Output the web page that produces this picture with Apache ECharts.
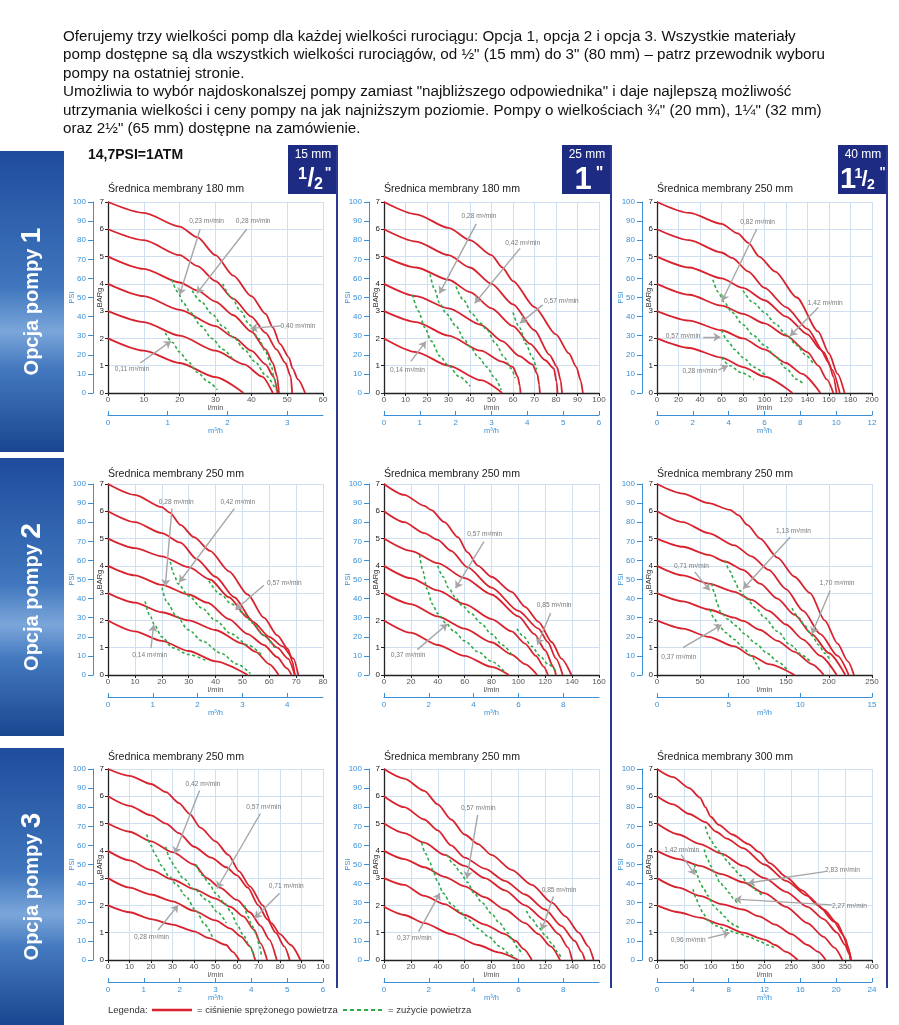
<!DOCTYPE html>
<html><head><meta charset="utf-8">
<script src="https://cdn.jsdelivr.net/npm/echarts@6/dist/echarts.min.js"></script>
<style>html,body{margin:0;padding:0;background:#fff}#c{width:899px;height:1025px}</style>
</head><body><div id="c"></div><script>
// ---------------- DATA ----------------
const titles = ['Średnica membrany 180 mm','Średnica membrany 180 mm','Średnica membrany 250 mm',
  'Średnica membrany 250 mm','Średnica membrany 250 mm','Średnica membrany 250 mm',
  'Średnica membrany 250 mm','Średnica membrany 250 mm','Średnica membrany 300 mm'];
const lminMax  = [60,100,200,80,160,250,100,160,400];
const lminStep = [10,10,20,10,20,50,10,20,50];
const m3hTicks = [[0,1,2,3],[0,1,2,3,4,5,6],[0,2,4,6,8,10,12],[0,1,2,3,4],[0,2,4,6,8],[0,5,10,15],[0,1,2,3,4,5,6],[0,2,4,6,8],[0,4,8,12,16,20,24]];
const barMax = 7, barStep = 1, psiMax = 100, psiStep = 10;
const headerMm = ['15 mm','25 mm','40 mm'];
const optionLabels = ['Opcja pompy ','Opcja pompy ','Opcja pompy '];
const optionNums = ['1','2','3'];

// pressure curves (BARg vs l/min), starting 7,6,5,4,3,2 bar
const p1Pressure = [
 [[0,7],[10,6.6],[20,6.1],[25,5.7],[30,5.05],[35,4.3],[40,3.55],[44,2.9],[46,2.4],[48,1.8],[50.5,1.3],[51.5,0.9],[53,0.5],[55,0]],
 [[0,6],[10,5.6],[20,5.05],[25,4.65],[30,4.1],[35,3.45],[40,2.8],[44,2.2],[47,1.6],[49.5,1.1],[51,0.6],[51.4,0]],
 [[0,5],[10,4.55],[20,4.05],[25,3.75],[30,3.35],[35,2.85],[40,2.25],[44,1.6],[46,1.1],[47.2,0.6],[47.7,0]],
 [[0,4],[10,3.55],[20,3.05],[30,2.45],[35,2.05],[40,1.55],[44,1.05],[46.2,0.6],[47.3,0]],
 [[0,3],[10,2.6],[20,2.1],[30,1.55],[38,1.05],[43,0.6],[46,0]],
 [[0,2],[10,1.55],[20,1.1],[30,0.58],[37.8,0]]
];
const p1Air = [
 [[16,2.2],[18,1.85],[20,1.5],[22,1.2],[25,0.75],[28,0.4],[30.5,0.12]],
 [[17.8,4.15],[19.5,3.7],[21,3.3],[23,2.95],[26,2.45],[29,2.0],[32,1.6],[35,1.2]],
 [[23.5,3.75],[26,3.35],[29,2.9],[32,2.45],[35,2.05],[38,1.6],[41,1.15],[44,0.65],[46.5,0.2]],
 [[32,4.0],[34.5,3.5],[37,3.0],[39.5,2.5],[42,2.0],[44,1.5],[45.5,1.0],[46.5,0.5],[47,0.1]]
];
const p1Notes = [
 ['0,23 m³/min',27.5,6.3,25.7,6.0,20,3.6],
 ['0,28 m³/min',40.5,6.3,38.7,6.0,24.8,3.65],
 ['0,40 m³/min',53,2.46,48.2,2.46,39.8,2.37],
 ['0,11 m³/min',6.7,0.88,9,1.1,17.6,1.9]
];

const p2Pressure = [
 [[0,7],[15,6.55],[30,6.05],[40,5.6],[50,5.05],[55,4.6],[60,4.1],[70,3.15],[80,2.15],[86,1.45],[89.5,0.95],[91.5,0.45],[92.5,0]],
 [[0,6],[15,5.55],[30,5.05],[40,4.6],[50,4.0],[60,3.25],[70,2.3],[77,1.4],[80.5,0.95],[82.2,0.45],[82.8,0]],
 [[0,5],[15,4.6],[30,4.15],[40,3.7],[50,3.1],[60,2.45],[68,1.8],[75,1.2],[79,0.9],[80.3,0.4],[80.7,0]],
 [[0,4],[15,3.55],[30,3.1],[45,2.5],[55,1.9],[63,1.35],[69,1.05],[71.3,0.7],[72.2,0.3],[72.5,0]],
 [[0,3],[15,2.6],[30,2.1],[45,1.55],[55,1.15],[60,0.95],[62.2,0.6],[63.2,0.25],[63.5,0]],
 [[0,2],[15,1.5],[30,1.0],[45,0.47],[55,0]]
];
const p2Air = [
 [[13.3,3.6],[16,3.0],[19,2.4],[22,1.9],[26,1.35],[30,1.0],[35,0.6],[40,0.25]],
 [[21.4,4.35],[23.5,3.8],[25.8,3.3],[29,2.9],[33.6,2.45],[37,2.0],[40,1.7],[44,1.3],[48,0.95],[51,0.6],[54.5,0.12]],
 [[33.5,3.9],[37,3.4],[41,2.9],[45,2.55],[48,2.3],[52,1.8],[56,1.3],[59,0.9],[61,0.55]],
 [[60,2.95],[63,2.4],[66,1.8],[69,1.3],[71,0.85]]
];
const p2Notes = [
 ['0,28 m³/min',44.2,6.48,42.9,6.2,25.8,3.65],
 ['0,42 m³/min',64.5,5.5,63.3,5.3,42.2,3.29],
 ['0,57 m³/min',82.5,3.37,73.8,3.23,63.3,2.56],
 ['0,14 m³/min',10.9,0.85,12.5,1.16,19.5,1.89]
];

const p3Pressure = [
 [[0,7],[30,6.6],[60,6.2],[75,5.85],[85,5.5],[95,5.0],[110,4.45],[130,3.5],[150,2.25],[160,1.45],[168,0.7],[174.5,0]],
 [[0,6],[30,5.6],[60,5.15],[70,4.95],[85,4.45],[100,3.85],[120,3.15],[140,2.35],[155,1.5],[163,0.85],[170,0]],
 [[0,5],[30,4.6],[60,4.2],[80,3.85],[100,3.4],[120,2.8],[140,2.15],[152,1.6],[160,1.1],[164,0.6],[167,0]],
 [[0,4],[30,3.6],[60,3.2],[80,2.9],[100,2.55],[120,2.1],[140,1.5],[150,1.0],[158,0.5],[164,0]],
 [[0,3],[30,2.65],[60,2.3],[80,2.0],[100,1.6],[120,1.1],[135,0.7],[152,0]],
 [[0,2],[30,1.65],[60,1.3],[80,0.95],[100,0.6],[126,0]]
];
const p3Air = [
 [[60,1.3],[68,1.0],[78,0.75],[90,0.5]],
 [[60,2.3],[66,1.9],[72,1.6],[80,1.3],[90,0.95],[102,0.6]],
 [[52,4.15],[57,3.7],[62,3.35],[70,2.95],[80,2.5],[90,2.1],[100,1.75],[110,1.35],[120,0.9],[130,0.5],[137,0.3]],
 [[80,3.75],[90,3.3],[100,2.95],[110,2.55],[120,2.15],[130,1.75],[138,1.4],[145,1.1]]
];
const p3Notes = [
 ['0,82 m³/min',93.6,6.26,92.7,6.0,60.5,3.37],
 ['1,42 m³/min',156.5,3.31,150,3.13,123.8,2.09],
 ['0,57 m³/min',24.3,2.09,43,2.05,59,2.05],
 ['0,28 m³/min',39.8,0.79,57,0.84,66,1.0]
];

const p4Pressure = [
 [[0,7],[10,6.6],[20,6.15],[23,5.95],[27,5.5],[32,5.05],[38,4.55],[45,3.8],[52,2.95],[58,2.1],[63,1.45],[67,0.95],[68.6,0.5],[69.5,0]],
 [[0,6],[10,5.6],[20,5.2],[27,4.85],[33,4.25],[40,3.6],[47,2.85],[54,1.95],[60,1.4],[65,1.05],[69,0.6],[70.8,0]],
 [[0,5],[10,4.65],[20,4.35],[30,3.95],[38,3.5],[45,2.85],[52,2.1],[58,1.45],[63,1.0],[67,0.6],[69.5,0]],
 [[0,4],[10,3.65],[20,3.3],[30,2.95],[37,2.65],[45,2.05],[52,1.5],[58,1.1],[63,0.65],[66.5,0.25],[68.3,0]],
 [[0,3],[10,2.65],[20,2.3],[30,2.0],[40,1.65],[50,1.15],[55,0.85],[60,0.4],[63.5,0]],
 [[0,2],[10,1.6],[20,1.25],[30,0.88],[40,0.5],[52,0]]
];
const p4Air = [
 [[13.8,2.7],[15.5,2.2],[17.5,1.8],[20,1.4],[24,1.0],[30,0.75],[37,0.5]],
 [[20.1,3.2],[22,2.65],[25.5,2.15],[30,1.65],[35,1.25],[42,0.8],[48,0.4],[53,0.05]],
 [[23.2,4.15],[24.5,3.7],[26,3.35],[30,2.9],[35,2.45],[40,2.0],[46,1.5],[52,1.1],[57,0.75]],
 [[37.5,3.45],[42,2.95],[46,2.6],[50,2.3],[54,1.9],[58,1.45],[62,1.0]]
];
const p4Notes = [
 ['0,28 m³/min',25.4,6.32,23.8,6.1,21.3,3.25],
 ['0,42 m³/min',48.3,6.32,47,6.1,26.5,3.4],
 ['0,57 m³/min',65.6,3.35,58,3.29,47.4,2.39],
 ['0,14 m³/min',15.5,0.74,16,0.99,17,1.84]
];

const p5Pressure = [
 [[0,7],[15,6.6],[30,6.2],[35,6.05],[45,5.6],[55,5.05],[62,4.5],[70,4.0],[80,3.6],[95,3.05],[105,2.5],[115,1.95],[125,1.2],[132,0.6],[139.5,0]],
 [[0,6],[15,5.6],[30,5.2],[40,4.95],[50,4.55],[62,3.95],[80,3.2],[100,2.35],[115,1.7],[122,1.2],[128,0.6],[133,0]],
 [[0,5],[20,4.55],[40,4.1],[60,3.55],[80,2.95],[100,2.15],[112,1.5],[120,0.9],[126,0.3],[128,0]],
 [[0,4],[20,3.55],[40,3.1],[60,2.6],[80,2.05],[95,1.6],[105,1.15],[113,0.7],[119,0.3],[122,0]],
 [[0,3],[20,2.6],[40,2.15],[60,1.7],[80,1.2],[95,0.75],[105,0.4],[114,0]],
 [[0,2],[20,1.55],[40,1.1],[60,0.7],[80,0.3],[93,0]]
];
const p5Air = [
 [[26.5,4.4],[29,3.8],[32,3.15],[36,2.6],[40,2.25],[46,1.9],[52,1.6],[60,1.25],[70,0.85],[80,0.5],[90,0.1]],
 [[40,4.0],[44,3.6],[48,3.2],[53,2.85],[58,2.55],[65,2.25],[72,1.9],[80,1.5],[88,1.1],[95,0.75]],
 [[99,1.7],[104,1.4],[110,1.05],[116,0.7],[122,0.4],[129,0.08]]
];
const p5Notes = [
 ['0,57 m³/min',74.9,5.17,74.4,4.89,53.3,3.18],
 ['0,85 m³/min',126.6,2.55,124,2.27,114.1,1.11],
 ['0,37 m³/min',17.9,0.71,24.8,0.93,47.1,1.87]
];

const p6Pressure = [
 [[0,7],[30,6.65],[60,6.3],[85,6.05],[95,5.85],[105,5.5],[120,5.0],[140,4.3],[160,3.6],[178,3.0],[195,2.0],[210,1.15],[222,0.5],[229,0]],
 [[0,6],[30,5.6],[60,5.2],[90,4.75],[110,4.35],[130,3.85],[150,3.15],[170,2.35],[190,1.5],[210,0.7],[223,0]],
 [[0,5],[30,4.7],[60,4.4],[80,4.15],[100,3.85],[120,3.35],[140,2.8],[160,2.2],[180,1.5],[200,0.8],[219,0]],
 [[0,4],[30,3.65],[60,3.35],[90,3.05],[110,2.75],[130,2.35],[150,1.85],[170,1.3],[190,0.7],[209,0]],
 [[0,3],[30,2.7],[60,2.4],[90,2.1],[100,1.98],[120,1.65],[140,1.25],[160,0.85],[180,0.4],[194,0]],
 [[0,2],[30,1.7],[60,1.4],[90,1.05],[110,0.7],[130,0.4],[160,0]]
];
const p6Air = [
 [[61.5,2.4],[66,2.1],[72,1.8],[80,1.55],[90,1.3],[100,1.0],[110,0.7],[116,0.4],[120,0.1]],
 [[63.5,3.35],[67,3.0],[70,2.6],[74,2.3],[82,2.05],[92,1.8],[102,1.5],[115,1.15],[128,0.8],[140,0.5],[151,0.2]],
 [[79,4.2],[85,3.8],[90,3.45],[96,3.1],[104,2.8],[115,2.45],[125,2.1],[140,1.6],[155,1.1],[170,0.7],[178,0.5]],
 [[157,2.45],[165,2.1],[172,1.8],[180,1.45],[188,1.1],[195,0.8],[202,0.5]]
];
const p6Notes = [
 ['1,13 m³/min',158.6,5.28,154.7,5.05,100.3,3.16],
 ['1,70 m³/min',209.2,3.35,201.4,3.1,180,1.5],
 ['0,71 m³/min',40,4.0,43.9,3.78,61.4,3.1],
 ['0,37 m³/min',25.3,0.66,30.3,1.0,75,1.84]
];

const p7Pressure = [
 [[0,7],[10,6.75],[20,6.45],[27,6.15],[33,5.75],[38,5.35],[43,4.85],[50,4.35],[56,3.85],[61,3.25],[66,2.7],[72,2.0],[76,1.35],[80,0.95],[85,0.55],[89.5,0]],
 [[0,6],[10,5.65],[20,5.3],[27,5.0],[33,4.65],[40,4.15],[48,3.75],[55,3.4],[60,3.1],[65,2.65],[70,2.0],[74,1.5],[78,1.0],[82,0.5],[84.5,0]],
 [[0,5],[10,4.7],[20,4.35],[30,3.95],[40,3.5],[46,3.0],[52,2.65],[60,2.2],[66,1.75],[71,1.25],[75,0.75],[78.5,0]],
 [[0,4],[10,3.65],[20,3.3],[30,2.95],[40,2.6],[50,2.25],[57,1.95],[63,1.6],[68,1.1],[71,0.6],[74,0]],
 [[0,3],[10,2.65],[20,2.4],[30,2.15],[40,1.8],[50,1.45],[57,1.15],[62,0.85],[66,0.5],[68.5,0]],
 [[0,2],[10,1.75],[20,1.5],[30,1.3],[40,1.05],[47,0.8],[55,0.55],[58,0.3],[61,0]]
];
const p7Air = [
 [[18,4.6],[20,4.2],[22,3.85],[25,3.45],[28,3.1],[32,2.75],[36,2.35],[41,1.8],[45,1.3],[49,0.75]],
 [[26.8,4.15],[29,3.7],[31,3.4],[35,3.0],[40,2.6],[46,2.2],[51,1.75],[55,1.35]],
 [[41,3.5],[44,3.1],[47,2.8],[50,2.45],[54,2.1],[57,1.8],[60,1.3],[63,0.9],[66,0.5],[68,0.12]],
 [[63.5,2.0],[65,1.6],[67,1.25],[69,0.95],[70.5,0.5],[71.5,0.1]]
];
const p7Notes = [
 ['0,42 m³/min',44.2,6.46,42.6,6.21,31,3.89],
 ['0,57 m³/min',72.4,5.6,70.9,5.37,50.7,2.62],
 ['0,71 m³/min',82.9,2.71,79.8,2.45,68.2,1.53],
 ['0,28 m³/min',20.2,0.85,23.3,1.1,32.6,2.01]
];

const p8Pressure = [
 [[0,7],[15,6.65],[30,6.2],[40,5.7],[50,5.15],[60,4.6],[70,4.25],[80,3.85],[95,3.3],[110,2.75],[125,2.1],[135,1.6],[145,1.0],[152,0.5],[156,0]],
 [[0,6],[15,5.6],[30,5.15],[40,4.75],[50,4.2],[60,3.75],[75,3.35],[90,2.9],[105,2.4],[120,1.85],[132,1.25],[142,0.7],[147,0.3],[149.5,0]],
 [[0,5],[15,4.65],[30,4.3],[45,3.85],[60,3.45],[75,3.0],[90,2.55],[105,2.0],[120,1.45],[130,0.95],[137,0.45],[140,0]],
 [[0,4],[15,3.7],[30,3.4],[45,3.05],[60,2.7],[75,2.3],[90,1.85],[105,1.35],[115,0.95],[124,0.5],[131,0]],
 [[0,3],[15,2.75],[30,2.35],[45,2.05],[60,1.65],[75,1.3],[90,0.95],[98,0.7],[104,0.4],[110,0]],
 [[0,1.95],[15,1.65],[30,1.35],[50,0.95],[70,0.55],[85,0.28],[100,0]]
];
const p8Air = [
 [[28,4.3],[31,3.9],[34,3.6],[37,3.2],[40,2.85],[44,2.45],[50,2.05],[56,1.8],[62,1.5],[70,1.15],[78,0.85],[86,0.5],[94,0.2],[98,0.05]],
 [[47,3.85],[52,3.5],[57,3.2],[62,2.85],[67,2.45],[73,2.1],[80,1.7],[86,1.35],[92,1.0],[96,0.7],[100,0.4],[103,0.2]],
 [[106,1.8],[110,1.5],[115,1.2],[120,0.9],[125,0.6],[129,0.3],[132,0.05]]
];
const p8Notes = [
 ['0,57 m³/min',70.2,5.57,69.7,5.32,61.7,2.99],
 ['0,85 m³/min',130.3,2.57,126.1,2.33,117.3,1.1],
 ['0,37 m³/min',22.6,0.8,25.8,1.04,41.6,2.45]
];

const p9Pressure = [
 [[0,7],[30,6.7],[60,6.3],[80,5.95],[90,5.6],[100,5.25],[115,4.95],[140,4.6],[170,4.25],[190,3.95],[210,3.55],[240,3.05],[270,2.55],[300,2.0],[330,1.4],[345,0.95],[355,0.5],[361,0]],
 [[0,6],[30,5.7],[60,5.35],[90,5.05],[110,4.7],[130,4.45],[160,4.1],[200,3.5],[240,2.9],[280,2.35],[310,1.85],[335,1.35],[350,0.8],[358,0.3],[361,0]],
 [[0,5],[40,4.6],[80,4.25],[120,3.9],[160,3.45],[200,3.0],[240,2.5],[280,1.95],[310,1.5],[335,1.0],[350,0.55],[358,0.2],[360,0]],
 [[0,4],[40,3.7],[80,3.45],[120,3.15],[160,2.85],[200,2.45],[240,1.95],[280,1.35],[310,0.85],[330,0.45],[345,0]],
 [[0,3],[40,2.65],[80,2.35],[120,2.05],[160,1.85],[190,1.6],[220,1.3],[250,0.95],[280,0.55],[300,0.3],[314,0]],
 [[0,2],[40,1.75],[80,1.55],[120,1.3],[160,1.0],[200,0.75],[220,0.55],[240,0.3],[262,0]]
];
const p9Air = [
 [[67,2.6],[72,2.3],[78,2.0],[86,1.7],[95,1.45],[110,1.25],[130,1.1],[150,0.98],[170,0.85],[190,0.7],[205,0.55],[220,0.43]],
 [[70,3.5],[75,3.1],[80,2.85],[87,2.6],[95,2.35],[105,2.0],[115,1.8],[125,1.6],[135,1.4],[145,1.25],[155,1.15]],
 [[88,4.05],[93,3.75],[100,3.45],[108,3.15],[117,2.85],[126,2.65],[135,2.45],[142,2.25],[150,2.05]],
 [[90,4.9],[95,4.6],[100,4.4],[108,4.15],[118,3.95],[130,3.65],[140,3.4],[155,3.1],[170,2.8],[185,2.55],[196,2.35]]
];
const p9Notes = [
 ['1,42 m³/min',46,4.04,44.9,3.86,71,3.12],
 ['2,83 m³/min',345,3.3,312.8,3.24,169.5,2.82],
 ['2,27 m³/min',358,1.96,325.2,2.02,144.5,2.23],
 ['0,96 m³/min',58,0.73,94.7,0.8,135.2,1.0]
];

const paragraph = [
 'Oferujemy trzy wielkości pomp dla każdej wielkości rurociągu: Opcja 1, opcja 2 i opcja 3. Wszystkie materiały',
 'pomp dostępne są dla wszystkich wielkości rurociągów, od ½" (15 mm) do 3" (80 mm) – patrz przewodnik wyboru',
 'pompy na ostatniej stronie.',
 'Umożliwia to wybór najdoskonalszej pompy zamiast "najbliższego odpowiednika" i daje najlepszą możliwość',
 'utrzymania wielkości i ceny pompy na jak najniższym poziomie. Pompy o wielkościach ¾" (20 mm), 1¼" (32 mm)',
 'oraz 2½" (65 mm) dostępne na zamówienie.'
];
const legendTexts = ['Legenda:','= ciśnienie sprężonego powietrza','= zużycie powietrza'];

// ---------------- LAYOUT / STYLE ----------------
const FONT = '"Liberation Sans", Arial, Helvetica, sans-serif';
const RED = '#d8232e', GREEN = '#2faa48', BLUE = '#3a8fd6', GRIDC = '#cfe0f3', NAVY = '#1e2b82', ARROW = '#a6a6a6';
const colLeft = [108, 384, 657], rowTop = [202, 484, 769], PW = 215, PH = 191;
const titleY = [189, 474, 757];
const panels = [
 [p1Pressure,p1Air,p1Notes],[p2Pressure,p2Air,p2Notes],[p3Pressure,p3Air,p3Notes],
 [p4Pressure,p4Air,p4Notes],[p5Pressure,p5Air,p5Notes],[p6Pressure,p6Air,p6Notes],
 [p7Pressure,p7Air,p7Notes],[p8Pressure,p8Air,p8Notes],[p9Pressure,p9Air,p9Notes]
];

function T(x, y, text, font, fill, align, valign, extra) {
  return Object.assign({type:'text', x:x, y:y, silent:true, z:20,
    style:{text:text, font:font, fill:fill, align:align||'left', textAlign:align||'left',
      verticalAlign:valign||'middle', textVerticalAlign:valign||'middle'}}, extra||{});
}

const option = {animation:false, backgroundColor:'#fff', grid:[], xAxis:[], yAxis:[], series:[], graphic:[]};
const G = option.graphic;

panels.forEach(function(p, i){
  const col = i % 3, row = Math.floor(i / 3);
  option.grid.push({left:colLeft[col], top:rowTop[row], width:PW, height:PH});
  option.xAxis.push({gridIndex:i, type:'value', min:0, max:lminMax[i], interval:lminStep[i], position:'bottom',
    axisLine:{show:true, onZero:false, lineStyle:{color:'#222', width:1.3}},
    axisTick:{show:true, length:3, lineStyle:{color:'#222'}},
    axisLabel:{fontSize:8, color:'#555', margin:3, fontFamily:FONT},
    splitLine:{show:true, lineStyle:{color:GRIDC, width:1}},
    name:'l/min', nameLocation:'middle', nameGap:11, nameMoveOverlap:false,
    nameTextStyle:{fontSize:7.5, color:'#555', fontFamily:FONT}});
  option.xAxis.push({gridIndex:i, type:'value', min:0, max:lminMax[i]*0.06, position:'bottom', offset:22,
    axisLine:{show:true, onZero:false, lineStyle:{color:BLUE, width:1}},
    axisTick:{show:true, customValues:m3hTicks[i], length:4, inside:true, lineStyle:{color:BLUE}},
    axisLabel:{customValues:m3hTicks[i], fontSize:8, color:BLUE, margin:4, fontFamily:FONT},
    splitLine:{show:false},
    name:'m³/h', nameLocation:'middle', nameGap:12, nameMoveOverlap:false,
    nameTextStyle:{fontSize:7.5, color:BLUE, fontFamily:FONT}});
  option.yAxis.push({gridIndex:i, type:'value', min:0, max:barMax, interval:barStep, position:'left',
    axisLine:{show:true, onZero:false, lineStyle:{color:'#222', width:1.3}},
    axisTick:{show:true, length:3, lineStyle:{color:'#222'}},
    axisLabel:{fontSize:8, color:'#222', margin:4, fontFamily:FONT},
    splitLine:{show:true, lineStyle:{color:GRIDC, width:1}},
    name:'BARg', nameLocation:'middle', nameGap:4, nameMoveOverlap:false,
    nameTextStyle:{fontSize:7.5, color:'#333', fontFamily:FONT}});
  option.yAxis.push({gridIndex:i, type:'value', min:0, max:psiMax, interval:psiStep, position:'left', offset:15,
    axisLine:{show:true, onZero:false, lineStyle:{color:BLUE, width:1}},
    axisTick:{show:true, length:5, lineStyle:{color:BLUE}},
    axisLabel:{fontSize:8, color:BLUE, margin:7, fontFamily:FONT},
    splitLine:{show:false},
    name:'PSI', nameLocation:'middle', nameGap:17, nameMoveOverlap:false,
    nameTextStyle:{fontSize:7.5, color:BLUE, fontFamily:FONT}});
  const xi = 2*i, yi = 2*i;
  p[0].forEach(function(c){
    option.series.push({type:'line', xAxisIndex:xi, yAxisIndex:yi, data:c, symbol:'none', smooth:0.25, smoothMonotone:'x',
      lineStyle:{color:RED, width:1.8}, z:3, silent:true});
  });
  p[1].forEach(function(c){
    option.series.push({type:'line', xAxisIndex:xi, yAxisIndex:yi, data:c, symbol:'none', smooth:0.3, smoothMonotone:'x',
      lineStyle:{color:GREEN, width:1.6, type:[3,2.5]}, z:4, silent:true});
  });
  option.series.push({type:'lines', coordinateSystem:'cartesian2d', xAxisIndex:xi, yAxisIndex:yi,
    symbol:['none','arrow'], symbolSize:7, silent:true, z:5,
    lineStyle:{color:ARROW, width:1.4, opacity:1, curveness:0},
    data:p[2].map(function(n){ return {coords:[[n[3],n[4]],[n[5],n[6]]]}; })});
  option.series.push({type:'scatter', xAxisIndex:xi, yAxisIndex:yi, symbolSize:1, silent:true, z:6,
    itemStyle:{color:'rgba(0,0,0,0)'},
    label:{show:true, position:'inside', formatter:'{b}', fontSize:6.6, color:'#555', fontFamily:FONT},
    data:p[2].map(function(n){ return {name:n[0], value:[n[1],n[2]]}; })});
  G.push(T(colLeft[col], titleY[row], titles[i], '10.6px '+FONT, '#222'));
});

// paragraph
paragraph.forEach(function(line, k){
  G.push(T(63, 36.5 + k*18.5, line, '15.2px '+FONT, '#111'));
});
G.push(T(88, 155, '14,7PSI=1ATM', 'bold 14px '+FONT, '#111'));

// option bands
const bandY = [[151,452],[458,736],[748,1025]];
bandY.forEach(function(b, k){
  G.push({type:'rect', silent:true, z:1, shape:{x:0, y:b[0], width:64, height:b[1]-b[0]},
    style:{fill:new echarts.graphic.LinearGradient(0,0,0,1,[
      {offset:0,color:'#1f4c9c'},{offset:0.45,color:'#3f76bd'},{offset:0.6,color:'#7ba6da'},
      {offset:0.72,color:'#4479bf'},{offset:1,color:'#1a4690'}])}});
  G.push({type:'text', silent:true, z:21, x:32, y:(b[0]+b[1])/2, rotation:Math.PI/2,
    style:{text:'{a|'+optionLabels[k]+'}{b|'+optionNums[k]+'}', align:'center', textAlign:'center',
      verticalAlign:'middle', textVerticalAlign:'middle',
      rich:{a:{fontSize:20, fontWeight:'bold', fontFamily:FONT, fill:'#fff', color:'#fff'},
            b:{fontSize:28, fontWeight:'bold', fontFamily:FONT, fill:'#fff', color:'#fff'}}}});
});

// header boxes + column dividers
const boxX = [288, 562, 838];
boxX.forEach(function(x, k){
  G.push({type:'rect', silent:true, z:10, shape:{x:x, y:145, width:50, height:49}, style:{fill:NAVY}});
  G.push({type:'line', silent:true, z:10, shape:{x1:x+49, y1:145, x2:x+49, y2:988}, style:{stroke:'#2c3a96', lineWidth:2}});
  G.push(T(x+25, 154.5, headerMm[k], '12px '+FONT, '#fff', 'center'));
});
// 1/2"
G.push(T(302.5, 175, '1', 'bold 16px '+FONT, '#fff', 'center'));
G.push(T(311, 179.5, '/', 'bold 25px '+FONT, '#fff', 'center'));
G.push(T(318.5, 184.5, '2', 'bold 16px '+FONT, '#fff', 'center'));
G.push(T(328, 173, '"', 'bold 14px '+FONT, '#fff', 'center'));
// 1"
G.push(T(583, 180, '1', 'bold 31px '+FONT, '#fff', 'center'));
G.push(T(599.5, 174, '"', 'bold 16px '+FONT, '#fff', 'center'));
// 1 1/2"
G.push(T(848, 180, '1', 'bold 29px '+FONT, '#fff', 'center'));
G.push(T(858.5, 174, '1', 'bold 14px '+FONT, '#fff', 'center'));
G.push(T(864.5, 179.5, '/', 'bold 22px '+FONT, '#fff', 'center'));
G.push(T(871, 185, '2', 'bold 14px '+FONT, '#fff', 'center'));
G.push(T(882.5, 172, '"', 'bold 13px '+FONT, '#fff', 'center'));

// legend
const LY = 1010;
G.push(T(108, LY, legendTexts[0], '9.5px '+FONT, '#333'));
G.push({type:'line', silent:true, z:20, shape:{x1:152,y1:LY,x2:192,y2:LY}, style:{stroke:RED, lineWidth:2.5}});
G.push(T(197, LY, legendTexts[1], '9.5px '+FONT, '#333'));
G.push({type:'line', silent:true, z:20, shape:{x1:343,y1:LY,x2:385,y2:LY}, style:{stroke:GREEN, lineWidth:2, lineDash:[4,3]}});
G.push(T(388, LY, legendTexts[2], '9.5px '+FONT, '#333'));

const chart = echarts.init(document.getElementById('c'), null, {renderer:'canvas'});
chart.setOption(option);
</script></body></html>
